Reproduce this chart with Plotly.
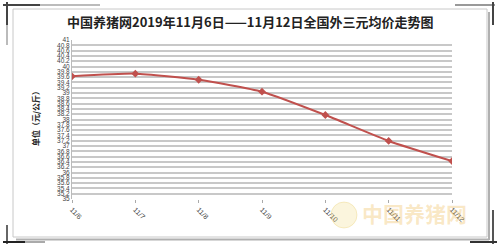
import plotly.graph_objects as go

categories = ["11/6", "11/7", "11/8", "11/9", "11/10", "11/11", "11/12"]
prices = [39.63, 39.73, 39.50, 39.05, 38.17, 37.19, 36.43]
y_ticks = [round(35 + 0.2 * i, 1) for i in range(31)]
y_tick_labels = [("%g" % v) for v in y_ticks]

title_text = "中国养猪网2019年11月6日——11月12日全国外三元均价走势图"
y_title = "单位（元/公斤）"
watermark = "中国养猪网"

W, H = 500, 247
L, R, T, B = 72, 48, 40, 48
PW, PH = W - L - R, H - T - B


def px(x):
    return (x - L) / PW


def py(y):
    return 1 - (y - T) / PH


xs = list(range(len(categories)))

fig = go.Figure()
fig.add_trace(go.Scatter(
    x=xs, y=prices, mode="lines+markers",
    line=dict(color="#c0504d", width=2, shape="spline", smoothing=0.5),
    marker=dict(symbol="diamond", size=6, color="#c0504d"),
    showlegend=False, hoverinfo="skip",
))

shapes = []
# chart frame shadow
shapes.append(dict(type="line", xref="paper", yref="paper", x0=px(489), x1=px(489), y0=py(12), y1=py(240),
                   line=dict(color="#b0b0b0", width=2), layer="below"))
shapes.append(dict(type="line", xref="paper", yref="paper", x0=px(16), x1=px(489), y0=py(239.5), y1=py(239.5),
                   line=dict(color="#b0b0b0", width=2), layer="below"))
# chart frame
shapes.append(dict(type="rect", xref="paper", yref="paper", x0=px(13), x1=px(487), y0=py(9), y1=py(237),
                   line=dict(color="#c8c8c8", width=1), fillcolor="white", layer="below"))
# corner marks
def seg(x0, y0, x1, y1, c="#333333", w=1.5):
    shapes.append(dict(type="line", xref="paper", yref="paper", x0=px(x0), x1=px(x1), y0=py(y0), y1=py(y1),
                       line=dict(color=c, width=w)))

seg(3, 5, 40, 5, "#444444", 2)
seg(40, 5, 100, 5, "#bbbbbb", 2)
seg(7, 2, 7, 25, "#444444", 2)
seg(7, 25, 7, 45, "#bbbbbb", 2)
seg(455, 5, 495, 5, "#999999", 2)
seg(493, 2, 493, 25, "#444444", 2)
seg(7, 225, 7, 244, "#666666", 2)
seg(3, 242, 25, 242, "#222222", 2)
seg(25, 242, 45, 242, "#aaaaaa", 2)
seg(493, 210, 493, 244, "#555555", 2)
seg(470, 242, 497, 242, "#333333", 2)
# watermark logo circle
shapes.append(dict(type="circle", xref="paper", yref="paper", x0=px(331), x1=px(357), y0=py(202), y1=py(228),
                   line=dict(color="rgba(230,200,90,0.3)", width=1), fillcolor="rgba(240,215,120,0.25)"))

annotations = [
    dict(text="<b>" + title_text + "</b>", xref="paper", yref="paper", x=px(250), y=py(21),
         showarrow=False, font=dict(family="Noto Sans CJK SC", size=13, color="#222222"),
         xanchor="center", yanchor="middle"),
    dict(text="<b>" + y_title + "</b>", xref="paper", yref="paper", x=px(35), y=py(117),
         showarrow=False, textangle=-90, font=dict(family="Noto Sans CJK SC", size=8, color="#222222"),
         xanchor="center", yanchor="middle"),
    dict(text="<b>" + watermark + "</b>", xref="paper", yref="paper", x=px(414), y=py(213),
         showarrow=False, font=dict(family="Noto Sans CJK SC", size=21, color="rgba(240,190,90,0.35)"),
         xanchor="center", yanchor="middle"),
]

fig.update_layout(
    width=W, height=H,
    margin=dict(l=L, r=R, t=T, b=B),
    paper_bgcolor="white", plot_bgcolor="white",
    shapes=shapes, annotations=annotations,
    xaxis=dict(range=[0, 6], tickvals=xs, ticktext=categories, tickangle=45,
               tickfont=dict(family="Liberation Sans", size=7, color="#444444"),
               showgrid=False, zeroline=False, showline=False,
               ticks="outside", ticklen=3, tickcolor="#aaaaaa"),
    yaxis=dict(range=[35, 41], tickvals=y_ticks, ticktext=y_tick_labels,
               tickfont=dict(family="Liberation Sans Narrow, Liberation Sans", size=6.5, color="#444444"),
               showgrid=True, gridcolor="#c8c8c8", gridwidth=1.5, zeroline=False,
               showline=True, linecolor="#bbbbbb", linewidth=1, ticks="", ticklen=0),
)

fig.write_html("out.html")
